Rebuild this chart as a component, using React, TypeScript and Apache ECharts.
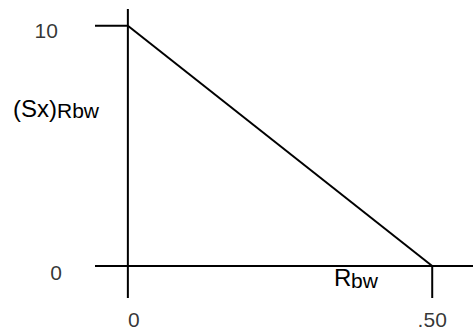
import React, { useEffect, useRef } from "react";
import * as echarts from "echarts";

// R_bw (x) vs (Sx)_Rbw (y)
const xTickValues = [0, 0.5];
const xTickLabels = ["0", ".50"];
const yTickValues = [10, 0];
const yTickLabels = ["10", "0"];
const lineX = [0, 0.5];
const lineY = [10, 0];
const xRange = [-0.054, 0.567];
const yRange = [-1.33, 10.7];

const FONT = "'Liberation Sans', Arial, sans-serif";

export default function App() {
  const ref = useRef<HTMLDivElement>(null);
  useEffect(() => {
    document.body.style.margin = "0";
    if (!ref.current) return;
    const chart = echarts.init(ref.current, undefined, { renderer: "svg" });
    const black = "#000";
    const seg = (data: number[][]) => ({
      type: "line",
      data,
      symbol: "none",
      lineStyle: { color: black, width: 2 },
      silent: true,
    });
    const yDist = [70, 66];
    const yOff = [5, 6];
    const xOff = [6, 0];
    chart.setOption({
      animation: false,
      backgroundColor: "#fff",
      grid: { left: 95, right: 1, top: 9, bottom: 33 },
      xAxis: { type: "value", min: xRange[0], max: xRange[1], show: false },
      yAxis: { type: "value", min: yRange[0], max: yRange[1], show: false },
      series: [
        seg([[xRange[0], 0], [xRange[1], 0]]),
        seg([[0, yRange[0]], [0, yRange[1]]]),
        seg([[xRange[0], yTickValues[0]], [0, yTickValues[0]]]),
        seg([[xTickValues[1], 0], [xTickValues[1], yRange[0]]]),
        seg(lineX.map((x, i) => [x, lineY[i]])),
        {
          type: "scatter",
          symbolSize: 0,
          silent: true,
          data: yTickValues.map((v, i) => ({
            value: [0, v],
            label: {
              show: true,
              position: "left",
              distance: yDist[i],
              offset: [0, yOff[i]],
              formatter: yTickLabels[i],
              color: black,
              fontSize: 21,
              fontFamily: FONT,
            },
          })),
        },
        {
          type: "scatter",
          symbolSize: 0,
          silent: true,
          data: xTickValues.map((v, i) => ({
            value: [v, 0],
            label: {
              show: true,
              position: "bottom",
              distance: 43,
              offset: [xOff[i], 0],
              formatter: xTickLabels[i],
              color: black,
              fontSize: 21,
              fontFamily: FONT,
            },
          })),
        },
      ],
      graphic: [
        { type: "text", left: 13, top: 96, style: { text: "(Sx)", fontSize: 24, fontFamily: FONT, fill: black } },
        { type: "text", left: 57, top: 100, style: { text: "Rbw", fontSize: 21, fontFamily: FONT, fill: black } },
        { type: "text", left: 334, top: 265, style: { text: "R", fontSize: 24, fontFamily: FONT, fill: black } },
        { type: "text", left: 351, top: 270, style: { text: "bw", fontSize: 21, fontFamily: FONT, fill: black } },
      ],
    });
    return () => chart.dispose();
  }, []);
  return <div ref={ref} style={{ width: 474, height: 331 }} />;
}
